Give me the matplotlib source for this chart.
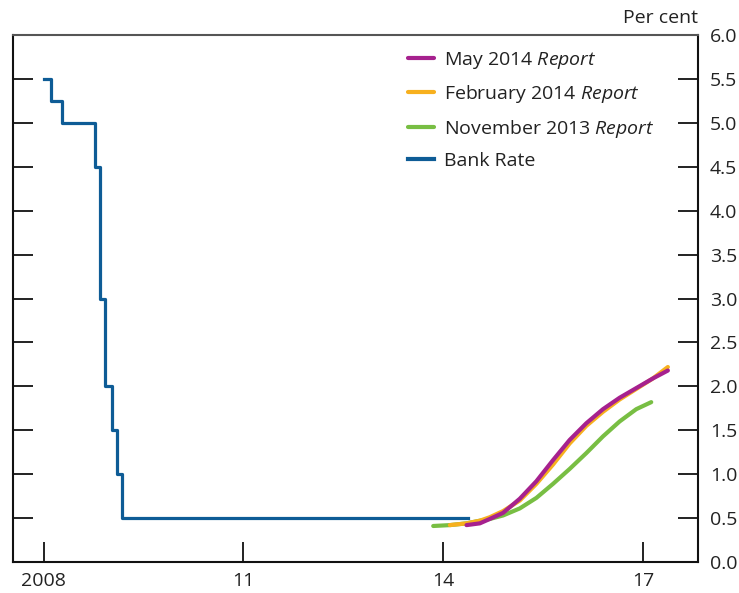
import matplotlib
matplotlib.use("Agg")
import matplotlib.pyplot as plt

plt.rcParams['font.family'] = ['Open Sans', 'DejaVu Sans']
plt.rcParams['mathtext.fontset'] = 'custom'
plt.rcParams['mathtext.it'] = 'Open Sans:italic'
plt.rcParams['mathtext.rm'] = 'Open Sans'

# Bank Rate (step changes, decimal years)
bank_dates = [2008.0, 2008.104, 2008.273, 2008.77, 2008.85, 2008.925, 2009.02, 2009.096, 2009.173, 2014.37]
bank_rate = [5.5, 5.25, 5.0, 4.5, 3.0, 2.0, 1.5, 1.0, 0.5, 0.5]

# Market-implied paths
may14_x = [2014.35, 2014.55, 2014.70, 2014.90, 2015.15, 2015.40, 2015.65, 2015.90,
           2016.15, 2016.40, 2016.65, 2016.90, 2017.15, 2017.375]
may14_y = [0.42, 0.44, 0.49, 0.56, 0.72, 0.92, 1.16, 1.39, 1.58, 1.74, 1.87, 1.98, 2.09, 2.18]

feb14_x = [2014.10, 2014.35, 2014.55, 2014.70, 2014.90, 2015.15, 2015.40, 2015.65, 2015.90,
           2016.15, 2016.40, 2016.65, 2016.90, 2017.15, 2017.375]
feb14_y = [0.42, 0.44, 0.47, 0.51, 0.58, 0.70, 0.89, 1.11, 1.35, 1.55, 1.71, 1.85, 1.97, 2.09, 2.22]

nov13_x = [2013.85, 2014.10, 2014.35, 2014.55, 2014.70, 2014.90, 2015.15, 2015.40, 2015.65,
           2015.90, 2016.15, 2016.40, 2016.65, 2016.90, 2017.125]
nov13_y = [0.41, 0.42, 0.44, 0.47, 0.49, 0.53, 0.61, 0.73, 0.89, 1.06, 1.24, 1.43, 1.60, 1.74, 1.82]

xtick_pos = [2008, 2011, 2014, 2017]
xtick_labels = ['2008', '11', '14', '17']
ytick_pos = [0.0, 0.5, 1.0, 1.5, 2.0, 2.5, 3.0, 3.5, 4.0, 4.5, 5.0, 5.5, 6.0]

c_may = '#A6218E'
c_feb = '#F7B01E'
c_nov = '#78BE43'
c_bank = '#0E5C96'

fig = plt.figure(figsize=(7.39, 5.93), dpi=100)
ax = fig.add_axes([12.5 / 739, 31 / 593, 685 / 739, 527 / 593])

ax.plot(nov13_x, nov13_y, color=c_nov, lw=3.0, solid_capstyle='round',
        solid_joinstyle='round', label='November 2013 $\\mathit{Report}$', zorder=3)
ax.plot(feb14_x, feb14_y, color=c_feb, lw=3.0, solid_capstyle='round',
        solid_joinstyle='round', label='February 2014 $\\mathit{Report}$', zorder=4)
ax.plot(may14_x, may14_y, color=c_may, lw=3.0, solid_capstyle='round',
        solid_joinstyle='round', label='May 2014 $\\mathit{Report}$', zorder=5)
ax.step(bank_dates, bank_rate, where='post', color=c_bank, lw=2.3,
        label='Bank Rate', zorder=2)

ax.set_xlim(2007.53, 2017.82)
ax.set_ylim(0, 6)
ax.set_xticks(xtick_pos)
ax.set_xticklabels(xtick_labels)
ax.set_yticks(ytick_pos)
ax.set_yticklabels(['%.1f' % v for v in ytick_pos])

ax.tick_params(axis='y', left=True, right=True, labelleft=False, labelright=True,
               direction='in', length=14.4, width=1.4, pad=9, labelsize=14, colors='#222222')
ax.tick_params(axis='x', bottom=True, top=False, direction='in', length=14.4,
               width=1.4, pad=7, labelsize=14, colors='#222222')

for s in ['left', 'right', 'bottom']:
    ax.spines[s].set_linewidth(1.5)
    ax.spines[s].set_color('#111111')
ax.spines['top'].set_linewidth(1.5)
ax.spines['top'].set_color('#555555')

handles, labels = ax.get_legend_handles_labels()
order = [2, 1, 0, 3]
leg = ax.legend([handles[i] for i in order], [labels[i] for i in order],
                loc='upper left', bbox_to_anchor=(0.577, 0.972), frameon=False,
                fontsize=14, handlelength=1.34, handletextpad=0.5,
                labelspacing=0.64, borderpad=0, borderaxespad=0)
for h in leg.get_lines():
    h.set_linewidth(3.0)
for t in leg.get_texts():
    t.set_color('#222222')

fig.text(698 / 739, 1 - 18 / 593, 'Per cent', ha='right', va='center',
         fontsize=14, color='#222222')

fig.savefig('out.png', dpi=100)
